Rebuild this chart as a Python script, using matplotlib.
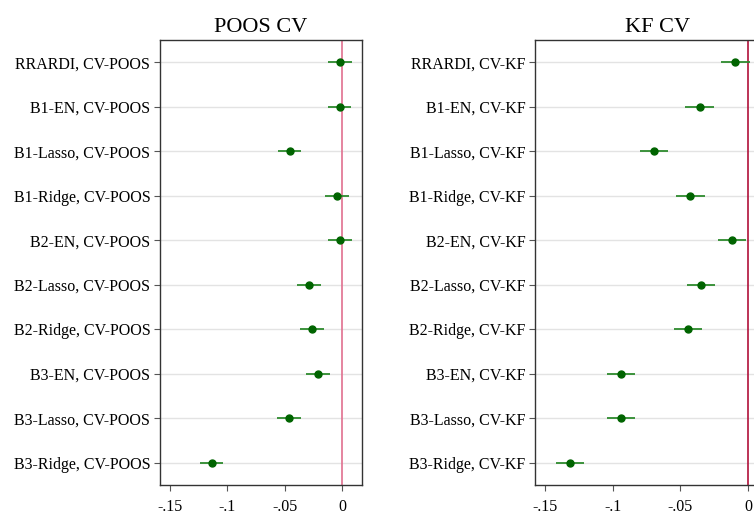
import matplotlib
matplotlib.use("Agg")
import matplotlib.pyplot as plt
import numpy as np

plt.rcParams['font.family'] = ['Liberation Serif', 'DejaVu Serif']

# ── Data ──────────────────────────────────────────────────────────────────────
models = ["RRARDI", "B1-EN", "B1-Lasso", "B1-Ridge", "B2-EN",
          "B2-Lasso", "B2-Ridge", "B3-EN", "B3-Lasso", "B3-Ridge"]

poos_est = [-0.002, -0.002, -0.0454, -0.0041, -0.002,
            -0.029, -0.0265, -0.0207, -0.046, -0.1137]
poos_hw  = [0.0105, 0.010, 0.010, 0.0105, 0.0105,
            0.0105, 0.0105, 0.0105, 0.0105, 0.0097]

kf_est = [-0.0094, -0.0358, -0.0696, -0.0427, -0.0121,
          -0.0348, -0.0444, -0.0938, -0.0938, -0.1319]
kf_hw  = [0.0105, 0.0105, 0.0105, 0.0105, 0.0105,
          0.0105, 0.0105, 0.0105, 0.0105, 0.0105]

xticks = [-0.15, -0.1, -0.05, 0]
xticklabels = ["-.15", "-.1", "-.05", "0"]

# ── Figure ────────────────────────────────────────────────────────────────────
W, H = 754, 516
fig = plt.figure(figsize=(W / 100, H / 100), dpi=100)

def add_panel(px_left, px_right, px_top, px_bottom, xlim, est, hw, suffix,
              title, vcolor):
    ax = fig.add_axes([px_left / W, 1 - px_bottom / H,
                       (px_right - px_left) / W, (px_bottom - px_top) / H])
    y = np.arange(len(models))
    for yi in y:
        ax.axhline(yi, color="#e3e3e3", lw=1, zorder=0)
    ax.axvline(0, color=vcolor, lw=1.2, zorder=1)
    ax.errorbar(est, y, xerr=hw, fmt="none", ecolor="#2e8b2e", elinewidth=1.3,
                zorder=2)
    ax.plot(est, y, "o", color="#006400", ms=5, zorder=3)
    ax.set_ylim(len(models) - 0.5, -0.5)
    ax.set_xlim(*xlim)
    ax.set_yticks(y)
    ax.set_yticklabels([f"{m}, {suffix}" for m in models], fontsize=11.5)
    ax.set_xticks(xticks)
    ax.set_xticklabels(xticklabels, fontsize=11.5)
    ax.tick_params(axis="both", length=4, width=0.8, color="#555555", pad=3)
    ax.tick_params(axis="x", pad=6)
    for s in ax.spines.values():
        s.set_color("#333333")
        s.set_linewidth(1.0)
    ax.set_title(title, fontsize=16, pad=6)
    return ax

add_panel(160, 362, 40, 485, (-0.1587, 0.0175), poos_est, poos_hw,
          "CV-POOS", "POOS CV", "#e0708f")
add_panel(535, 780, 40, 485, (-0.1576, 0.0236), kf_est, kf_hw,
          "CV-KF", "KF CV", "#b0103a")

fig.savefig("out.png", dpi=100)
